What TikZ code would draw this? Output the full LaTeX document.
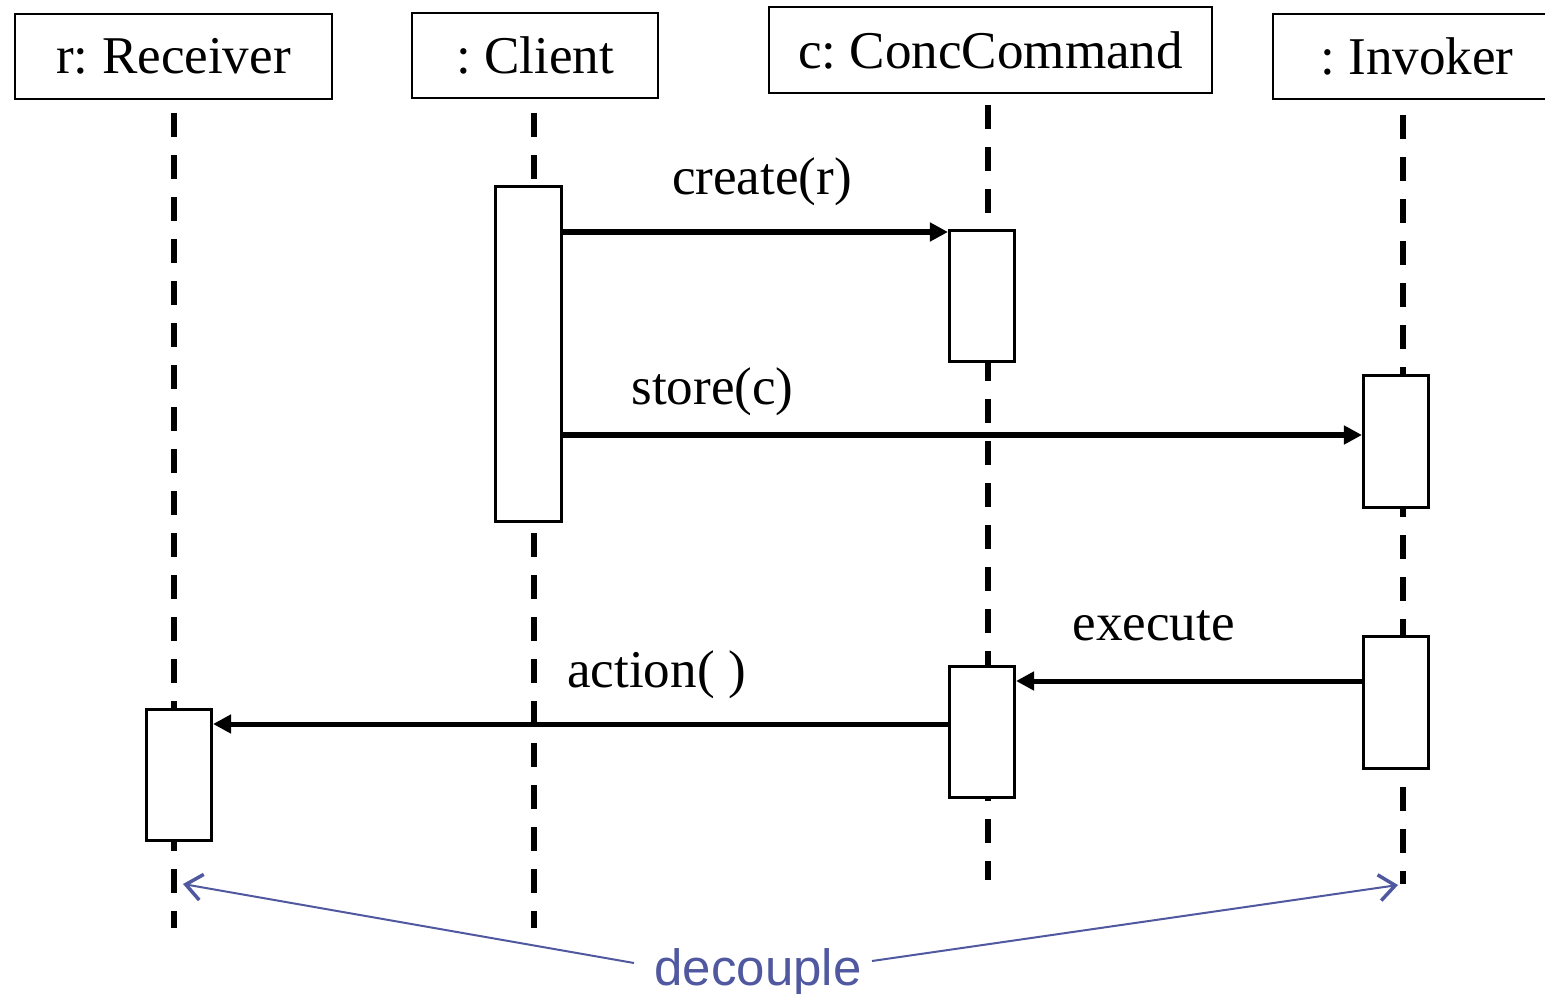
\documentclass[tikz,border=0pt]{standalone}
\usepackage{fontspec}
\setmainfont{Liberation Serif}
\newfontfamily\decfont{Liberation Sans}
\usetikzlibrary{arrows.meta}
\definecolor{decblue}{RGB}{80,88,160}
\frenchspacing
\begin{document}
\begin{tikzpicture}[x=0.01cm,y=-0.01cm,
  hdr/.style={draw,line width=0.025cm,inner sep=0,font=\fontsize{15.1}{18}\selectfont},
  act/.style={draw,fill=white,line width=0.03cm,inner sep=0,minimum width=0.65cm},
  life/.style={line width=0.06cm,dash pattern=on 0.24cm off 0.18cm},
  msg/.style={line width=0.05cm,-{Triangle[length=0.18cm,width=0.18cm]}},
  lbl/.style={inner sep=0,anchor=base,font=\fontsize{15.1}{18}\selectfont},
  dec/.style={decblue,line width=0.02cm,-{Straight Barb[length=0.16cm,width=0.26cm,line width=0.035cm]}}
]
\useasboundingbox (0,0) rectangle (1545,994);
\clip (0,0) rectangle (1545,994);

% headers
\node[hdr,minimum width=3.17cm,minimum height=0.85cm] (rcv) at (173.5,56.5) {r: Receiver};
\node[hdr,minimum width=2.46cm,minimum height=0.85cm] (cli) at (535,55.5) {: Client};
\node[hdr,minimum width=4.43cm,minimum height=0.86cm] (cmd) at (990.5,50) {c: ConcCommand};
\node[hdr,minimum width=2.88cm,minimum height=0.85cm] (inv) at (1417,56.5) {: Invoker};

% lifeline ends
\coordinate (rcvTop) at (174,113);  \coordinate (rcvEnd) at (174,928);
\coordinate (cliTop) at (534,113);  \coordinate (cliEnd) at (534,928);
\coordinate (cmdTop) at (988,105);  \coordinate (cmdEnd) at (988,880);
\coordinate (invTop) at (1403,115); \coordinate (invEnd) at (1403,884);
\draw[life] (rcvTop) -- (rcvEnd);
\draw[life] (cliTop) -- (cliEnd);
\draw[life] (cmdTop) -- (cmdEnd);
\draw[life] (invTop) -- (invEnd);

% activations
\node[act,minimum height=3.34cm] (cact) at (528.5,354) {};
\node[act,minimum height=1.30cm] (cc1) at (982,296) {};
\node[act,minimum height=1.31cm] (ci1) at (1396,441.5) {};
\node[act,minimum height=1.30cm] (cc2) at (982,732) {};
\node[act,minimum height=1.31cm] (ci2) at (1396,702.5) {};
\node[act,minimum height=1.30cm] (ract) at (179,775) {};

% messages
\draw[msg] (cact.east |- 0,232) -- (cc1.west |- 0,232);
\draw[msg] (cact.east |- 0,435) -- (ci1.west |- 0,435);
\draw[msg] (ci2.west |- 0,681) -- (cc2.east |- 0,681);
\draw[msg] (cc2.west |- 0,724) -- (ract.east |- 0,724);

\node[lbl] (lcreate) at (762,195) {create(r)};
\node[lbl] (lstore) at (712.5,404) {store(c)};
\node[lbl] (lexec) at (1153.5,640) {execute};
\node[lbl] (laction) at (656.5,687) {action( )};

% decouple
\node[inner sep=0,anchor=base,text=decblue,font=\decfont\fontsize{14.5}{17}\selectfont] (dcp) at (758,985) {decouple};
\coordinate (decL) at (634,963);
\coordinate (decR) at (872,961);
\coordinate (rcvTip) at (183,884);
\coordinate (invTip) at (1398,885);
\draw[dec] (decL) -- (rcvTip);
\draw[dec] (decR) -- (invTip);
\end{tikzpicture}
\end{document}
